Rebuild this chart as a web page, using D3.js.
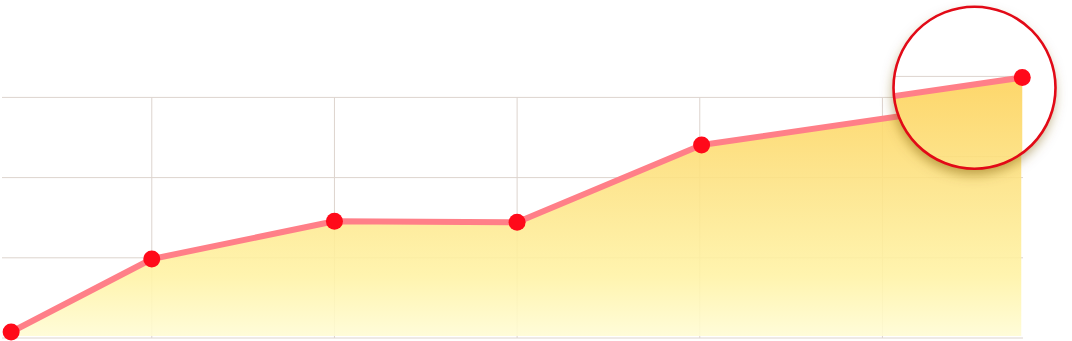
<!DOCTYPE html>
<html>
<head>
<meta charset="utf-8">
<script src="https://cdn.jsdelivr.net/npm/d3@7"></script>
<style>
  html, body { margin: 0; padding: 0; background: #fff; }
  svg { display: block; }
</style>
</head>
<body>
<div id="graph"></div>
<script>
// Data
const xValues = [0.23, 1, 2, 3, 4.01, 5.76];
const yValues = [7.5, 98.5, 145.5, 144.3, 240.6, 298.6];
const xTicks = [1, 2, 3, 4, 5];
const yTicks = [0, 100, 200, 300];
const points = xValues.map((x, i) => ({ x: x, y: yValues[i] }));

const width = 1072;
const height = 341;

const svg = d3.select('#graph')
  .append('svg')
  .attr('width', width)
  .attr('height', height);

const defs = svg.append('defs');

// Gradient of the area (vertical)
const grad = defs.append('linearGradient')
  .attr('id', 'areaFill')
  .attr('gradientUnits', 'userSpaceOnUse')
  .attr('x1', 0).attr('y1', 90)
  .attr('x2', 0).attr('y2', 338);
grad.append('stop').attr('offset', 0).attr('stop-color', '#fdd45f');
grad.append('stop').attr('offset', 0.4).attr('stop-color', '#fde487');
grad.append('stop').attr('offset', 0.75).attr('stop-color', '#fff3a6');
grad.append('stop').attr('offset', 1).attr('stop-color', '#fffcd6');

// Shadow of the lens
const shadow = defs.append('filter')
  .attr('id', 'lensShadow')
  .attr('x', '-30%').attr('y', '-30%')
  .attr('width', '160%').attr('height', '160%');
shadow.append('feDropShadow')
  .attr('dx', -1).attr('dy', 6)
  .attr('stdDeviation', 6)
  .attr('flood-color', '#7a5a00')
  .attr('flood-opacity', 0.5);

const lens = { cx: 974.5, cy: 87.7, r: 81 };

defs.append('clipPath')
  .attr('id', 'lensClip')
  .append('circle')
  .attr('cx', lens.cx).attr('cy', lens.cy).attr('r', lens.r);

const xScale = d3.scaleLinear().domain([0.18, 5.775]).range([2, 1024]);
const yScale = d3.scaleLinear().domain([0, 300]).range([338, 97.4]);

function drawChart(g, sx, sy) {
  const [x0, x1] = sx.range();

  // Horizontal grid lines
  g.selectAll('.h-grid')
    .data(yTicks)
    .enter()
    .append('line')
    .attr('class', 'h-grid')
    .attr('x1', x0).attr('x2', x1 - 1)
    .attr('y1', d => sy(d)).attr('y2', d => sy(d))
    .style('stroke', '#ddd4ce')
    .style('stroke-width', 1);

  // Vertical grid lines
  g.selectAll('.v-grid')
    .data(xTicks)
    .enter()
    .append('line')
    .attr('class', 'v-grid')
    .attr('x1', d => sx(d)).attr('x2', d => sx(d))
    .attr('y1', sy(300)).attr('y2', sy(0))
    .style('stroke', '#ddd4ce')
    .style('stroke-width', 1);

  // Area
  const area = d3.area()
    .x(d => sx(d.x))
    .y0(sy(0) - 2)
    .y1(d => sy(d.y));

  g.append('path')
    .attr('d', area(points))
    .style('fill', 'url(#areaFill)')
    .style('opacity', 0.9);

  // Line
  const line = d3.line()
    .x(d => sx(d.x))
    .y(d => sy(d.y));

  g.append('path')
    .attr('d', line(points))
    .style('fill', 'none')
    .style('stroke', '#ff7f88')
    .style('stroke-width', 6)
    .style('stroke-linejoin', 'round');

  // Points
  g.selectAll('.data-point')
    .data(points)
    .enter()
    .append('circle')
    .attr('class', 'data-point')
    .attr('cx', d => sx(d.x))
    .attr('cy', d => sy(d.y))
    .attr('r', 8.5)
    .style('fill', '#ff0a1a');
}

drawChart(svg.append('g'), xScale, yScale);

// Lens with shifted copy of the chart
svg.append('circle')
  .attr('cx', lens.cx).attr('cy', lens.cy).attr('r', lens.r)
  .style('fill', '#fff')
  .attr('filter', 'url(#lensShadow)');

const lensGroup = svg.append('g').attr('clip-path', 'url(#lensClip)');
lensGroup.append('rect')
  .attr('x', lens.cx - lens.r).attr('y', lens.cy - lens.r)
  .attr('width', lens.r * 2).attr('height', lens.r * 2)
  .style('fill', '#fff');

drawChart(
  lensGroup,
  xScale.copy().range([3, 1025]),
  yScale.copy().range([317, 76.4])
);

svg.append('circle')
  .attr('cx', lens.cx).attr('cy', lens.cy).attr('r', lens.r)
  .style('fill', 'none')
  .style('stroke', '#e20a17')
  .style('stroke-width', 2.6);
</script>
</body>
</html>
